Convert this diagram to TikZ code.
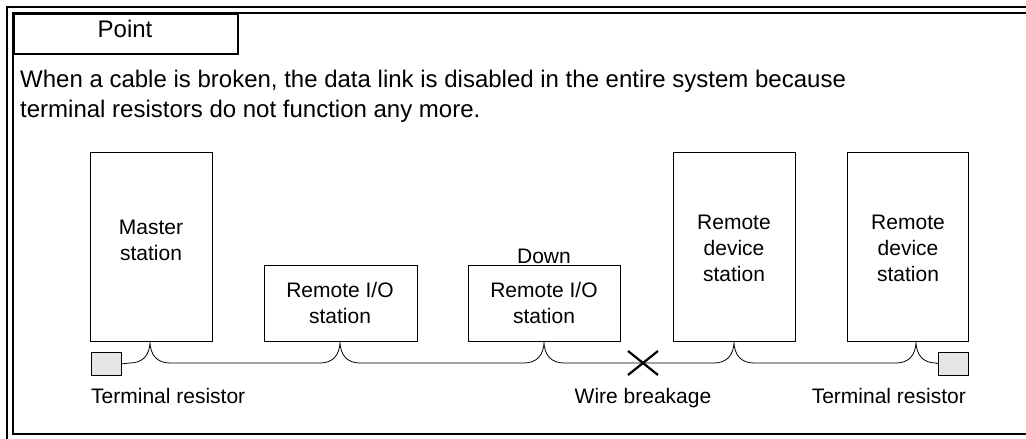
\documentclass[tikz,border=0pt]{standalone}
\usepackage{fontspec}
\setmainfont{Liberation Sans}
\begin{document}
\begin{tikzpicture}[x=1pt,y=-1pt,
  frameline/.style={line width=2pt},
  stationbox/.style={draw, line width=0.8pt, anchor=north west, inner sep=0pt},
  stationtext/.style={align=center, font=\fontsize{21}{26}\selectfont, inner sep=0pt},
  labeltext/.style={font=\fontsize{21}{26}\selectfont, inner sep=0pt, anchor=base},
  termbox/.style={draw, line width=0.8pt, fill=black!10, anchor=north west, minimum width=30pt, minimum height=23pt, inner sep=0pt},
  wire/.style={line width=0.8pt},
  breakmark/.style={line width=2.2pt}]
\useasboundingbox (0,0) rectangle (1026,439);
% frame
\draw[frameline] (1026,7) -- (7,7) -- (7,439);
\draw[frameline] (1026,13) -- (13,13) -- (13,434) -- (1026,434);
% Point tab
\node[draw, line width=1.7pt, anchor=north west, minimum width=224pt, minimum height=40pt, inner sep=0pt] (tab) at (13,13) {};
\node[font=\fontsize{24}{30}\selectfont, anchor=base, inner sep=0pt] (point) at (125,37) {Point};
% body text
\node[font=\fontsize{24}{30}\selectfont, anchor=base west, inner sep=0pt] (line1) at (20,87) {When a cable is broken, the data link is disabled in the entire system because};
\node[font=\fontsize{24}{30}\selectfont, anchor=base west, inner sep=0pt] (line2) at (20,117) {terminal resistors do not function any more.};
% stations
\node[stationbox, minimum width=122pt, minimum height=189pt] (master) at (90,152) {};
\node[stationbox, minimum width=153pt, minimum height=76pt] (rio1) at (264,265) {};
\node[stationbox, minimum width=152pt, minimum height=76pt] (rio2) at (468,265) {};
\node[stationbox, minimum width=122pt, minimum height=189pt] (rd1) at (673,152) {};
\node[stationbox, minimum width=121pt, minimum height=189pt] (rd2) at (847,152) {};
\node[stationtext] (mastertext) at (151,240) {Master\\station};
\node[stationtext] (rio1text) at (340,303) {Remote I/O\\station};
\node[stationtext] (rio2text) at (544,303) {Remote I/O\\station};
\node[stationtext] (rd1text) at (734,248) {Remote\\device\\station};
\node[stationtext] (rd2text) at (908,248) {Remote\\device\\station};
\node[labeltext] (down) at (544,263) {Down};
% terminal resistors
\node[termbox] (termL) at (91,352) {};
\node[termbox] (termR) at (938,352) {};
% junctions
\coordinate (jm) at (150,341);
\coordinate (j1) at (340,341);
\coordinate (j2) at (544,341);
\coordinate (j3) at (734,341);
\coordinate (j4) at (916,341);
% wires
\draw[wire] (termL.east) -- (130,363) .. controls (142,363) and (150,356) .. (jm)
  .. controls (150,356) and (158,363) .. (170,363) -- (320,363)
  .. controls (332,363) and (340,356) .. (j1)
  .. controls (340,356) and (348,363) .. (360,363) -- (524,363)
  .. controls (536,363) and (544,356) .. (j2)
  .. controls (544,356) and (552,363) .. (564,363) -- (714,363)
  .. controls (726,363) and (734,356) .. (j3)
  .. controls (734,356) and (742,363) .. (754,363) -- (896,363)
  .. controls (908,363) and (916,356) .. (j4)
  .. controls (916,356) and (924,363) .. (936,363) -- (termR.west);
% break mark
\coordinate (brk) at (643,363);
\draw[breakmark] ([shift={(-15,-12)}]brk) -- ([shift={(15,12)}]brk);
\draw[breakmark] ([shift={(-15,12)}]brk) -- ([shift={(15,-12)}]brk);
% labels
\node[labeltext, anchor=base west] (tlabelL) at (91,403) {Terminal resistor};
\node[labeltext] (wlabel) at (643,403) {Wire breakage};
\node[labeltext, anchor=base east] (tlabelR) at (966,403) {Terminal resistor};
\end{tikzpicture}
\end{document}
